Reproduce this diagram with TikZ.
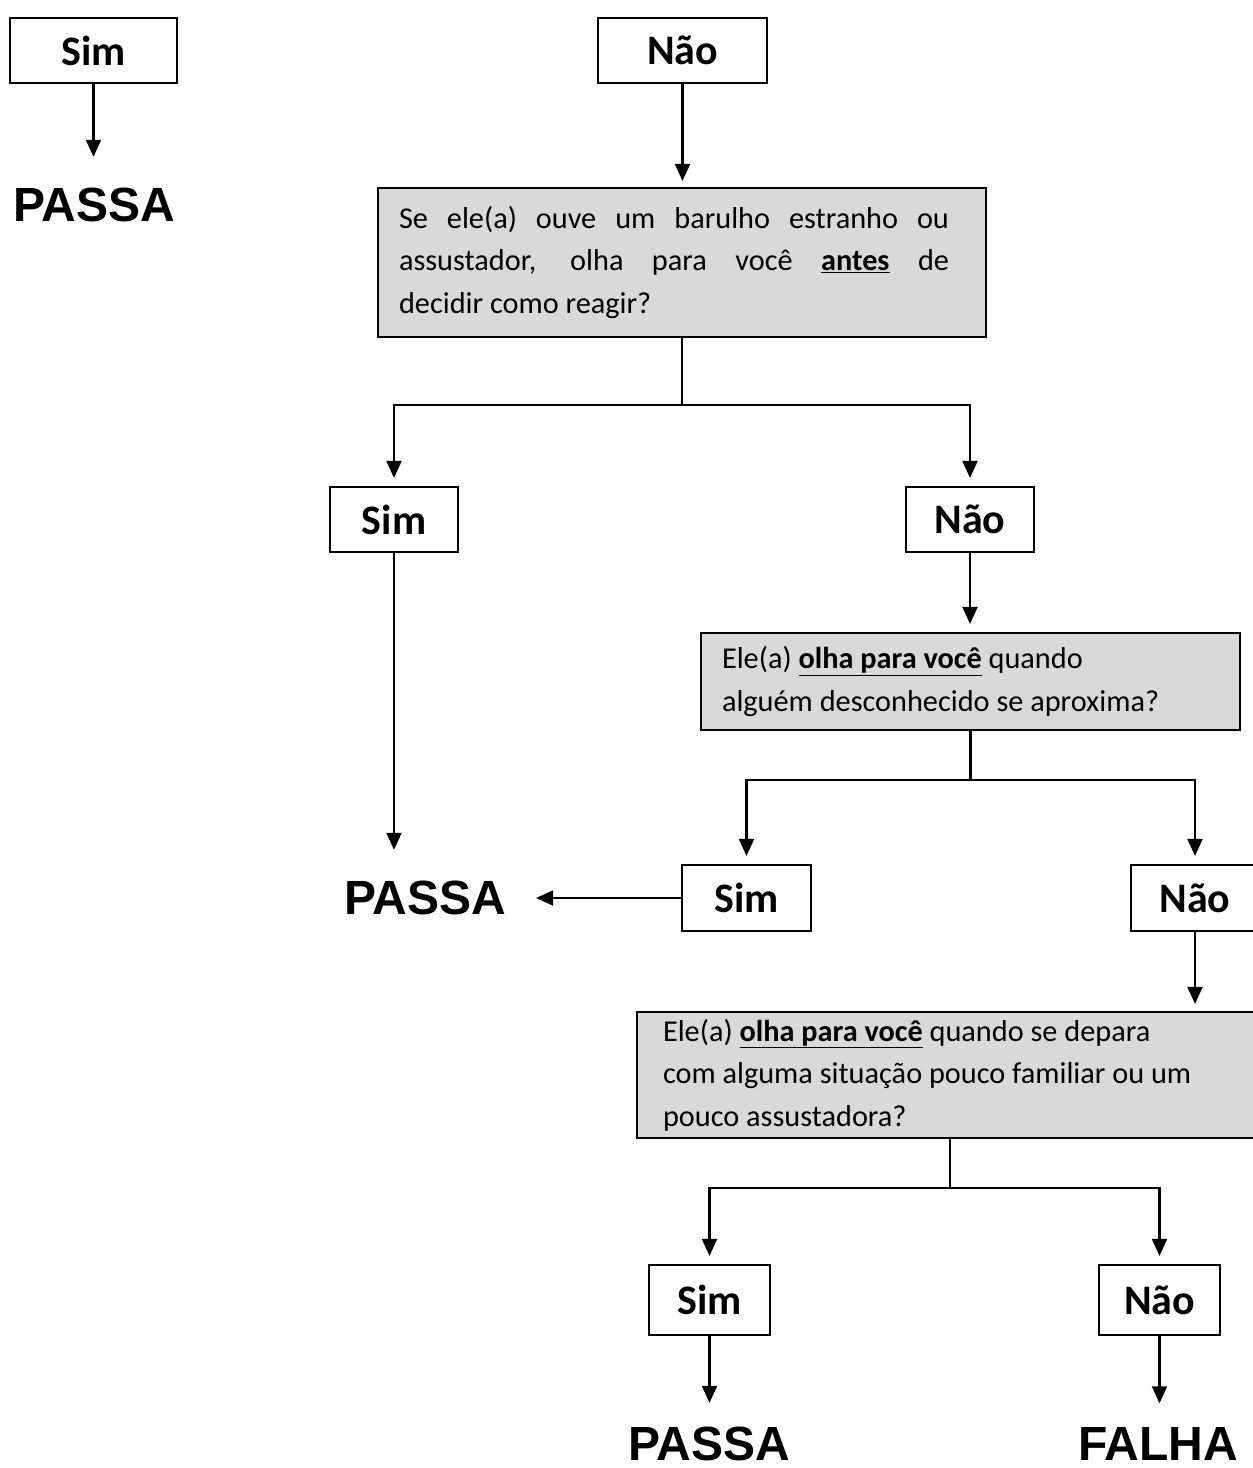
\documentclass[tikz,border=0pt]{standalone}
\usepackage{fontspec}
\setmainfont{Carlito}
\newfontfamily\arialfont{Liberation Sans}
\usetikzlibrary{arrows.meta,calc}
\definecolor{qgray}{RGB}{217,217,217}
\begin{document}
\begin{tikzpicture}[x=1pt,y=-1pt,
  lbl/.style={draw, line width=2.2pt, font=\bfseries\fontsize{42}{50}\selectfont, minimum height=65pt, inner sep=0pt},
  qbox/.style={draw, line width=2.2pt, fill=qgray, font=\fontsize{30.3}{42.5}\selectfont, align=flush left, inner ysep=0pt},
  res/.style={font=\arialfont\bfseries\fontsize{48}{56}\selectfont, inner sep=0pt},
  arr/.style={line width=2.1pt, -{Triangle[width=15pt,length=17pt]}},
  ln/.style={line width=2.1pt}]
\useasboundingbox[fill=white] (0,0) rectangle (1253,1468);

% top-left
\node[lbl, minimum width=167pt] (S1) at (93.5,50.5) {Sim};
\node[res] (P1) at (94,205) {PASSA};
\draw[arr, shorten >=31pt] (S1.south) -- (S1.south |- P1.north);

% top centre
\node[lbl, minimum width=169pt] (N1) at (682.5,50.5) {Não};
\node[qbox, text width=566pt, inner xsep=21pt, minimum height=149pt] (Q1) at (682,262.5)
  {\makebox[550pt][s]{Se ele(a) ouve um barulho estranho ou}\\
   \makebox[550pt][s]{assustador, olha para você \underline{\textbf{antes}} de}\\
   decidir como reagir?};
\draw[arr, shorten >=6pt] (N1.south) -- (N1.south |- Q1.north);

% second level
\node[lbl, minimum width=128pt] (S2) at (394,519.5) {Sim};
\node[lbl, minimum width=128pt] (N2) at (970,519.5) {Não};
\coordinate (j1) at (0,405);
\draw[arr, shorten >=8pt] (Q1.south) -- (Q1.south |- j1) -| (S2.north);
\draw[arr, shorten >=8pt] (Q1.south |- j1) -| (N2.north);

\node[qbox, text width=497pt, inner xsep=21pt, minimum height=97pt] (Q2) at (970.5,681.5)
  {Ele(a) \underline{\textbf{olha para você}} quando\\
   alguém desconhecido se aproxima?};
\draw[arr, shorten >=8pt] (N2.south) -- (N2.south |- Q2.north);

% third level
\node[res] (P2) at (425,898) {PASSA};
\draw[arr, shorten >=31pt] (S2.south) -- (S2.south |- P2.north);
\node[lbl, minimum width=129pt, minimum height=66pt] (S3) at (746.5,898) {Sim};
\node[lbl, minimum width=128pt, minimum height=66pt] (N3) at (1195,898) {Não};
\draw[arr, shorten >=30pt] (S3.west) -- (P2.east);
\coordinate (j2) at (0,780);
\draw[arr, shorten >=8pt] (Q2.south) -- (Q2.south |- j2) -| (S3.north);
\draw[arr, shorten >=8pt] (Q2.south |- j2) -| (N3.north);

\node[qbox, text width=574pt, inner xsep=26pt, minimum height=126pt] (Q3) at (950,1075)
  {Ele(a) \underline{\textbf{olha para você}} quando se depara\\
   com alguma situação pouco familiar ou um\\
   pouco assustadora?};
\draw[arr, shorten >=7pt] (N3.south) -- (N3.south |- Q3.north);

% fourth level
\node[lbl, minimum width=121pt, minimum height=70pt] (S4) at (709.5,1300) {Sim};
\node[lbl, minimum width=121pt, minimum height=70pt] (N4) at (1159.5,1300) {Não};
\coordinate (j3) at (0,1188);
\draw[arr, shorten >=8pt] (Q3.south) -- (Q3.south |- j3) -| (S4.north);
\draw[arr, shorten >=8pt] (Q3.south |- j3) -| (N4.north);

\node[res] (P3) at (709,1444) {PASSA};
\node[res] (F3) at (1158,1444) {FALHA};
\draw[arr, shorten >=24pt] (S4.south) -- (S4.south |- P3.north);
\draw[arr, shorten >=24pt] (N4.south) -- (N4.south |- F3.north);
\end{tikzpicture}
\end{document}
